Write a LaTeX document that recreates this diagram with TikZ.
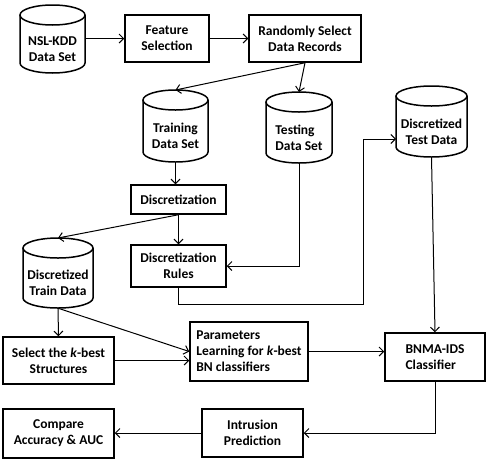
\documentclass[tikz,border=0pt]{standalone}
\usepackage{fontspec}
\setmainfont{Carlito}
\usetikzlibrary{arrows.meta}
\newcommand{\cylout}[4]{%
  \pgfmathsetmacro\cyA{#1-#4}\pgfmathsetmacro\cyB{#1+#4}%
  \pgfmathsetmacro\cyT{#2+10}\pgfmathsetmacro\cyU{#3-10}%
  \pgfmathsetmacro\cyK{0.5523*#4}%
  \draw[cylline] (#1,\cyT) ellipse [x radius=#4pt, y radius=10pt];
  \draw[cylline] (\cyA,\cyT) -- (\cyA,\cyU) .. controls (\cyA,\cyU+5.523) and (#1-\cyK,#3) .. (#1,#3)
     .. controls (#1+\cyK,#3) and (\cyB,\cyU+5.523) .. (\cyB,\cyU) -- (\cyB,\cyT);
}
\begin{document}
\begin{tikzpicture}[x=1pt,y=-1pt,
  txt/.style={font=\bfseries\fontsize{13.5}{16}\selectfont, align=center, inner sep=0pt},
  box/.style={txt, draw, line width=1.5pt},
  body/.style={txt},
  cylline/.style={line width=1.5pt},
  conn/.style={line width=1pt, -{Straight Barb[length=4.5pt,width=9pt]}}]
\useasboundingbox (0,0) rectangle (486,461);
% boxes
\node[box, minimum width=84pt, minimum height=47pt] (feat) at (167,38.5) {Feature\\Selection};
\node[box, minimum width=112pt, minimum height=47pt] (rand) at (305,38.5) {Randomly Select\\Data Records};
\node[box, minimum width=95pt, minimum height=29pt] (disc) at (178.5,199.5) {Discretization};
\node[box, minimum width=95pt, minimum height=42pt] (rules) at (178.5,266) {Discretization\\Rules};
\node[box, minimum width=111pt, minimum height=47pt] (select) at (58.5,360.5) {Select the \textit{k}-best\\Structures};
\node[box, minimum width=118pt, minimum height=59pt, align=left] (param) at (249,351.5) {Parameters\\Learning for \textit{k}-best\\BN classifiers};
\node[box, minimum width=100pt, minimum height=48pt, align=left] (bnma) at (435,357) {BNMA-IDS\\Classifier};
\node[box, minimum width=101pt, minimum height=48pt] (intr) at (252.5,433) {Intrusion\\Prediction};
\node[box, minimum width=111pt, minimum height=49pt] (comp) at (58.5,433.5) {Compare\\Accuracy \& AUC};
% cylinders
\cylout{52.5}{5}{73}{32.5}
\node[body, minimum width=65pt, minimum height=48pt] (nsl) at (52.5,49) {NSL-KDD\\Data Set};
\cylout{175.5}{90}{162}{32.5}
\node[body, minimum width=65pt, minimum height=52pt] (train) at (175.5,136) {Training\\Data Set};
\coordinate (train-top) at (175.5,90);
\cylout{299}{92}{163}{33}
\node[body, minimum width=66pt, minimum height=51pt, align=left] (test) at (299,137.5) {Testing\\Data Set};
\coordinate (test-top) at (299,92);
\cylout{431.5}{86}{157}{35.5}
\node[body, minimum width=71pt, minimum height=51pt] (dtest) at (431.5,131.5) {Discretized\\Test Data};
\coordinate (dtest-in) at (396,139);
\cylout{58}{238}{308}{35}
\node[body, minimum width=70pt, minimum height=50pt] (dtrain) at (58,283) {Discretized\\Train Data};
\coordinate (dtrain-top) at (58,238);
% connectors
\draw[conn] (feat.west -| nsl.east) -- (feat.west);
\draw[conn] (feat.east) -- (rand.west);
\draw[conn] (rand.south) -- (train-top);
\draw[conn] (rand.south) -- (test-top);
\draw[conn] (train.south) -- (train.south |- disc.north);
\draw[conn] (disc.south) -- (dtrain-top);
\draw[conn] (disc.south) -- (rules.north);
\draw[conn] (test.south) |- (rules.east);
\coordinate (r1) at (363,304);
\draw[conn] (rules.south) |- (r1) |- (dtest-in);
\draw[conn] (dtest.south) -- (bnma.north);
\draw[conn] (dtrain.south) -- (select.north);
\draw[conn] (dtrain.south) -- (param.west);
\draw[conn] (select.east) -- (select.east -| param.west);
\draw[conn] (param.east) -- (param.east -| bnma.west);
\draw[conn] (bnma.south) |- (intr.east);
\draw[conn] (intr.west) -- (intr.west -| comp.east);
\end{tikzpicture}
\end{document}
